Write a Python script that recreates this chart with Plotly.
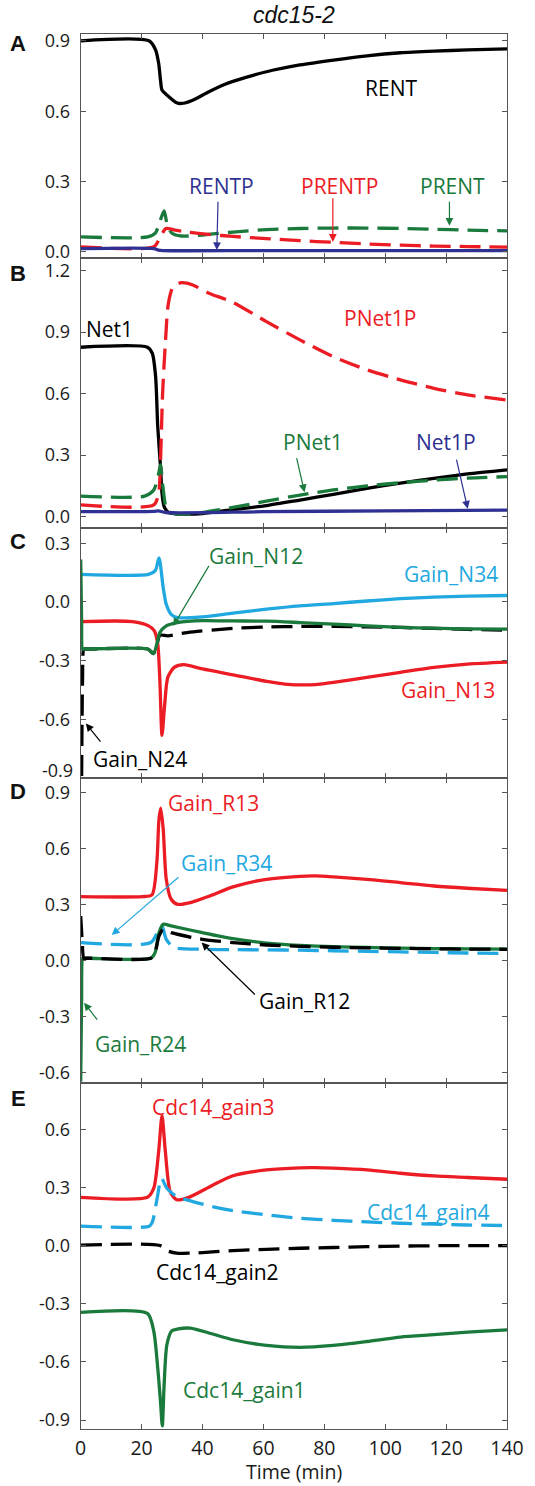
import plotly.graph_objects as go

# ---------------- Panel A ----------------
t_RENT = [0, 22.4, 24.6, 25.6, 26.2, 26.7, 28.3, 31.5, 33.1, 36.8, 42.1, 47.4, 50, 61, 72, 83, 94, 105, 116, 127, 140]
RENT = [0.90, 0.90, 0.861, 0.804, 0.733, 0.69, 0.669, 0.636, 0.633, 0.647, 0.683, 0.715, 0.727, 0.768, 0.797, 0.818, 0.836, 0.849, 0.856, 0.861, 0.866]
t_PRENT = [0, 22, 24.5, 26, 27.4, 28.5, 30, 33, 40, 50, 61, 72, 83, 94, 105, 116, 127, 140]
PRENT = [0.064, 0.064, 0.08, 0.13, 0.175, 0.11, 0.08, 0.068, 0.072, 0.085, 0.095, 0.1, 0.102, 0.102, 0.1, 0.097, 0.093, 0.09]
t_PRENTP = [0, 24, 26, 28, 31, 35, 42, 50, 61, 72, 83, 94, 105, 116, 127, 140]
PRENTP = [0.022, 0.022, 0.06, 0.1, 0.093, 0.085, 0.075, 0.066, 0.057, 0.048, 0.041, 0.034, 0.029, 0.025, 0.023, 0.021]
t_RENTP = [0, 24, 25.5, 27, 60, 140]
RENTP = [0.014, 0.014, 0.008, 0.006, 0.006, 0.006]

# ---------------- Panel B ----------------
t_Net1 = [0, 21.9, 23.5, 24.6, 25.3, 26.2, 26.7, 27.4, 28.8, 31, 35, 40, 50, 61, 72, 83, 94, 105, 116, 127, 140]
Net1 = [0.826, 0.826, 0.797, 0.683, 0.439, 0.244, 0.114, 0.049, 0.021, 0.014, 0.012, 0.015, 0.034, 0.054, 0.081, 0.109, 0.138, 0.163, 0.187, 0.208, 0.228]
t_PNet1P = [0, 24, 25.6, 26.2, 26.9, 27.8, 28.8, 30.4, 33.1, 36.8, 42.1, 50, 61, 72, 83, 94, 105, 116, 127, 140]
PNet1P = [0.057, 0.057, 0.114, 0.27, 0.602, 0.846, 1.041, 1.122, 1.141, 1.13, 1.09, 1.045, 0.951, 0.862, 0.78, 0.716, 0.667, 0.626, 0.594, 0.569]
t_PNet1 = [0, 21, 24, 25.6, 26.2, 27, 28.3, 30.4, 36.8, 42, 50, 61, 72, 83, 94, 105, 116, 127, 140]
PNet1 = [0.1, 0.1, 0.13, 0.21, 0.252, 0.146, 0.033, 0.016, 0.014, 0.025, 0.045, 0.075, 0.105, 0.13, 0.15, 0.165, 0.178, 0.188, 0.195]
t_Net1P = [0, 24, 25.5, 28, 60, 100, 140]
Net1P = [0.024, 0.026, 0.028, 0.02, 0.024, 0.028, 0.032]

# ---------------- Panel C ----------------
t_N34 = [0, 22.3, 24.5, 25.7, 27.1, 28.1, 29.7, 31.8, 40, 50, 61, 72, 83, 94, 105, 116, 127, 140]
Gain_N34 = [0.141, 0.141, 0.16, 0.225, 0.073, -0.012, -0.063, -0.08, -0.076, -0.057, -0.037, -0.02, -0.008, 0.005, 0.017, 0.025, 0.03, 0.033]
t_N13 = [0, 17, 22.3, 24.2, 25.3, 26, 26.7, 27.6, 28.6, 30.7, 33.9, 40, 50, 61, 67, 77, 83, 94, 105, 116, 127, 140]
Gain_N13 = [-0.1, -0.1, -0.122, -0.147, -0.215, -0.402, -0.681, -0.52, -0.385, -0.334, -0.32, -0.342, -0.372, -0.405, -0.419, -0.422, -0.41, -0.385, -0.359, -0.334, -0.317, -0.307]
t_N12 = [0, 0.3, 0.6, 1.2, 2.5, 22, 23.9, 25, 26, 28.1, 31.8, 40, 50, 61, 72, 83, 94, 105, 116, 127, 140]
Gain_N12 = [0.217, -0.1, -0.24, -0.24, -0.24, -0.24, -0.263, -0.215, -0.156, -0.122, -0.105, -0.095, -0.097, -0.098, -0.105, -0.113, -0.122, -0.13, -0.134, -0.137, -0.139]
t_N24 = [0, 0.3, 0.6, 1.0, 1.5, 3, 22, 23.9, 25, 26, 28.6, 35, 50, 61, 72, 83, 94, 105, 116, 127, 140]
Gain_N24 = [-1.5, -0.9, -0.4, -0.24, -0.24, -0.24, -0.24, -0.263, -0.22, -0.17, -0.173, -0.156, -0.135, -0.128, -0.125, -0.125, -0.127, -0.13, -0.135, -0.14, -0.144]

# ---------------- Panel D ----------------
t_R13 = [0, 20.2, 23.4, 25, 25.7, 26.3, 27.1, 28.1, 29.7, 31.8, 36, 42.3, 50, 61, 72, 77, 83, 94, 105, 116, 127, 140]
Gain_R13 = [0.341, 0.341, 0.35, 0.523, 0.755, 0.815, 0.702, 0.434, 0.327, 0.3, 0.309, 0.344, 0.393, 0.434, 0.45, 0.452, 0.447, 0.434, 0.416, 0.398, 0.386, 0.375]
t_R34 = [0, 23, 25.7, 26.7, 28.1, 30.7, 40, 50, 61, 72, 83, 94, 105, 116, 127, 140]
Gain_R34 = [0.095, 0.095, 0.166, 0.184, 0.112, 0.068, 0.059, 0.057, 0.056, 0.054, 0.051, 0.048, 0.045, 0.042, 0.039, 0.036]
t_R12 = [0, 0.5, 1.0, 1.6, 3, 23, 24.4, 25.7, 27.1, 29.7, 40, 50, 61, 72, 83, 94, 105, 116, 127, 140]
Gain_R12 = [0.237, 0.1, 0.011, 0.011, 0.011, 0.011, 0.04, 0.13, 0.166, 0.148, 0.112, 0.095, 0.082, 0.075, 0.07, 0.067, 0.064, 0.062, 0.06, 0.059]
t_R24 = [0, 0.3, 0.7, 1.3, 3, 23, 24.4, 25.7, 27.1, 29.7, 40, 50, 61, 72, 83, 94, 105, 116, 127, 140]
Gain_R24 = [-0.65, -0.2, 0.011, 0.011, 0.011, 0.011, 0.04, 0.148, 0.193, 0.184, 0.148, 0.116, 0.092, 0.08, 0.073, 0.069, 0.065, 0.063, 0.061, 0.06]

# ---------------- Panel E ----------------
t_g3 = [0, 21.9, 24, 25.6, 26.7, 27.8, 29.4, 31.5, 35.7, 43.2, 50, 61, 72, 77, 83, 94, 105, 116, 127, 140]
Cdc14_gain3 = [0.249, 0.249, 0.296, 0.485, 0.67, 0.485, 0.278, 0.236, 0.25, 0.31, 0.36, 0.39, 0.401, 0.402, 0.399, 0.39, 0.373, 0.359, 0.351, 0.342]
t_g4 = [0, 22.5, 23.5, 25.1, 26.5, 28.3, 31.5, 36.8, 43.2, 50, 61, 72, 83, 94, 105, 116, 127, 140]
Cdc14_gain4 = [0.1, 0.1, 0.12, 0.244, 0.347, 0.296, 0.253, 0.227, 0.201, 0.18, 0.158, 0.141, 0.13, 0.122, 0.115, 0.11, 0.106, 0.103]
t_g2 = [0, 26, 28.3, 31.5, 36.8, 43.2, 50, 61, 72, 83, 94, 105, 116, 127, 140]
Cdc14_gain2 = [0.002, 0.0, -0.026, -0.039, -0.039, -0.033, -0.026, -0.02, -0.014, -0.01, -0.006, -0.003, -0.001, 0.0, 0.0]
t_g1 = [0, 21.9, 24, 25.3, 26.2, 26.8, 27.4, 28.3, 29.9, 32, 36, 43, 50, 61, 72, 83, 94, 105, 116, 127, 140]
Cdc14_gain1 = [-0.345, -0.35, -0.443, -0.632, -0.804, -0.93, -0.718, -0.512, -0.44, -0.43, -0.426, -0.455, -0.486, -0.515, -0.525, -0.515, -0.495, -0.472, -0.46, -0.447, -0.435]

x_ticks = [0, 20, 40, 60, 80, 100, 120, 140]
y_ticks = [
    [0.0, 0.3, 0.6, 0.9],
    [0.0, 0.3, 0.6, 0.9, 1.2],
    [-0.9, -0.6, -0.3, 0.0, 0.3],
    [-0.6, -0.3, 0.0, 0.3, 0.6, 0.9],
    [-0.9, -0.6, -0.3, 0.0, 0.3, 0.6],
]

BLACK = "#000000"
RED = "#EC1C24"
GREEN = "#1A7A3C"
BLUE = "#2E3192"
CYAN = "#22A8E0"
FONT = "Open Sans"

W, H = 535, 1486
X0, X1 = 80.7, 507.0
panel_px = [(34.0, 258.3), (258.3, 528.3), (528.3, 778.3), (778.3, 1083.3), (1083.3, 1429.3)]
y_ranges = [(-0.027, 0.929), (-0.057, 1.26), (-0.9, 0.376), (-0.659, 0.975), (-0.948, 0.837)]

fig = go.Figure()


def ax(i):
    return ("x" if i == 0 else f"x{i+1}", "y" if i == 0 else f"y{i+1}")


def add(panel, t, v, color, dash=False, width=3.3):
    xa, ya = ax(panel)
    fig.add_trace(go.Scatter(
        x=t, y=v, mode="lines", xaxis=xa, yaxis=ya,
        line=dict(color=color, width=width, dash="21px,9px" if dash else "solid",
                  shape="spline", smoothing=0.7),
        showlegend=False, hoverinfo="skip", cliponaxis=True))


# Panel A
add(0, t_PRENT, PRENT, GREEN, dash=True)
add(0, t_PRENTP, PRENTP, RED, dash=True)
add(0, t_RENTP, RENTP, BLUE)
add(0, t_RENT, RENT, BLACK)
# Panel B
add(1, t_Net1, Net1, BLACK)
add(1, t_PNet1P, PNet1P, RED, dash=True)
add(1, t_PNet1, PNet1, GREEN, dash=True)
add(1, t_Net1P, Net1P, BLUE)
# Panel C
add(2, t_N34, Gain_N34, CYAN)
add(2, t_N13, Gain_N13, RED)
add(2, t_N24, Gain_N24, BLACK, dash=True)
add(2, t_N12, Gain_N12, GREEN)
# Panel D
add(3, t_R13, Gain_R13, RED)
add(3, t_R34, Gain_R34, CYAN, dash=True)
add(3, t_R24, Gain_R24, GREEN)
add(3, t_R12, Gain_R12, BLACK, dash=True)
# Panel E
add(4, t_g3, Cdc14_gain3, RED)
add(4, t_g4, Cdc14_gain4, CYAN, dash=True)
add(4, t_g2, Cdc14_gain2, BLACK, dash=True)
add(4, t_g1, Cdc14_gain1, GREEN)

layout = dict(
    width=W, height=H, margin=dict(l=0, r=0, t=0, b=0, autoexpand=False),
    paper_bgcolor="white", plot_bgcolor="white",
    font=dict(family=FONT, size=18, color="#1a1a1a"),
    showlegend=False,
)
for i in range(5):
    top, bot = panel_px[i]
    xname = "xaxis" if i == 0 else f"xaxis{i+1}"
    yname = "yaxis" if i == 0 else f"yaxis{i+1}"
    xa, ya = ax(i)
    layout[xname] = dict(
        domain=[X0 / W, X1 / W], anchor=ya, range=[0, 140],
        tickvals=x_ticks, ticktext=[str(v) for v in x_ticks],
        showticklabels=(i == 4), ticks="inside", ticklen=5, tickwidth=1,
        tickcolor="#555", showline=True, linecolor="#555", linewidth=1.2,
        mirror="ticks", showgrid=False, zeroline=False, fixedrange=True,
        tickfont=dict(size=19.5, family=FONT, color="#1a1a1a"),
        ticklabelstandoff=1, automargin=False,
    )
    if i > 0:
        layout[xname]["matches"] = "x"
    ticktext = [f"{v:.1f}" for v in y_ticks[i]]
    if i == 2:
        ticktext[0] = ""
    layout[yname] = dict(
        domain=[1 - bot / H, 1 - top / H], anchor=xa, range=list(y_ranges[i]),
        tickvals=y_ticks[i], ticktext=ticktext,
        ticks="inside", ticklen=5, tickwidth=1, tickcolor="#555",
        showline=True, linecolor="#555", linewidth=1.2, mirror="ticks",
        showgrid=False, zeroline=False, fixedrange=True,
        tickfont=dict(size=18, family=FONT, color="#1a1a1a"),
        ticklabelstandoff=6, automargin=False,
    )
fig.update_layout(**layout)

ann = []


def text(panel, t, v, s, color, size=21):
    xa, ya = ax(panel)
    ann.append(dict(x=t, y=v, xref=xa, yref=ya, text=s, showarrow=False,
                    font=dict(family=FONT, size=size, color=color),
                    xanchor="center", yanchor="middle"))


def arrow(panel, t0, v0, t1, v1, color):
    xa, ya = ax(panel)
    ann.append(dict(x=t1, y=v1, xref=xa, yref=ya, ax=t0, ay=v0, axref=xa, ayref=ya,
                    text="", showarrow=True, arrowhead=2, arrowsize=1.3,
                    arrowwidth=1.2, arrowcolor=color, standoff=0, startstandoff=0))


# Panel A labels
text(0, 102, 0.697, "RENT", BLACK)
text(0, 46.2, 0.282, "RENTP", BLUE)
arrow(0, 45.1, 0.22, 44.7, 0.008, BLUE)
text(0, 85, 0.282, "PRENTP", RED)
arrow(0, 82.8, 0.235, 82.8, 0.043, RED)
text(0, 122.2, 0.282, "PRENT", GREEN)
arrow(0, 121.1, 0.22, 121.1, 0.112, GREEN)
# Panel B labels
text(1, 9.4, 0.916, "Net1", BLACK)
text(1, 98.4, 0.968, "PNet1P", RED)
text(1, 76.3, 0.366, "PNet1", GREEN)
arrow(1, 70.8, 0.293, 73.5, 0.119, GREEN)
text(1, 120, 0.366, "Net1P", BLUE)
arrow(1, 123.3, 0.285, 127.1, 0.038, BLUE)
# Panel C labels
text(2, 57.7, 0.234, "Gain_N12", GREEN)
arrow(2, 42.4, 0.192, 30.4, -0.122, GREEN)
text(2, 121.6, 0.141, "Gain_N34", CYAN)
text(2, 120.5, -0.449, "Gain_N13", RED)
text(2, 19.4, -0.8, "Gain_N24", BLACK)
arrow(2, 6.9, -0.72, 1.7, -0.62, BLACK)
# Panel D labels
text(3, 43.7, 0.843, "Gain_R13", RED)
text(3, 47.9, 0.523, "Gain_R34", CYAN)
arrow(3, 32.6, 0.452, 10.2, 0.136, CYAN)
text(3, 73.5, -0.218, "Gain_R12", BLACK)
arrow(3, 57.7, -0.191, 39.7, 0.095, BLACK)
text(3, 19.7, -0.447, "Gain_R24", GREEN)
arrow(3, 5.8, -0.326, 1.1, -0.227, GREEN)
# Panel E labels
text(4, 43.7, 0.717, "Cdc14_gain3", RED)
text(4, 114.2, 0.175, "Cdc14_gain4", CYAN)
text(4, 44.8, -0.134, "Cdc14_gain2", BLACK)
text(4, 53.9, -0.744, "Cdc14_gain1", GREEN)

# C panel bottom tick label (raised as in original)
ann.append(dict(x=(X0 - 6) / W, y=1 - 769.5 / H, xref="paper", yref="paper", text="-0.9",
                showarrow=False, xanchor="right", yanchor="middle",
                font=dict(family=FONT, size=18, color="#1a1a1a")))

# Panel letters
for letter, py in zip("ABCDE", [43.3, 273.3, 541.7, 791.7, 1098]):
    ann.append(dict(x=18 / W, y=1 - py / H, xref="paper", yref="paper", text=f"<b>{letter}</b>",
                    showarrow=False, xanchor="center", yanchor="middle",
                    font=dict(family="Liberation Sans", size=22, color="#111")))

# Title and x title
ann.append(dict(x=(X0 + X1) / 2 / W, y=1 - 15 / H, xref="paper", yref="paper", text="<i>cdc15-2</i>",
                showarrow=False, xanchor="center", yanchor="middle",
                font=dict(family="Liberation Sans", size=23, color="#111")))
ann.append(dict(x=(X0 + X1) / 2 / W, y=0, xref="paper", yref="paper", text="Time (min)",
                showarrow=False, xanchor="center", yanchor="bottom", borderpad=0,
                font=dict(family=FONT, size=19.5, color="#1a1a1a")))

fig.update_layout(annotations=ann)
fig.write_html("out.html")
